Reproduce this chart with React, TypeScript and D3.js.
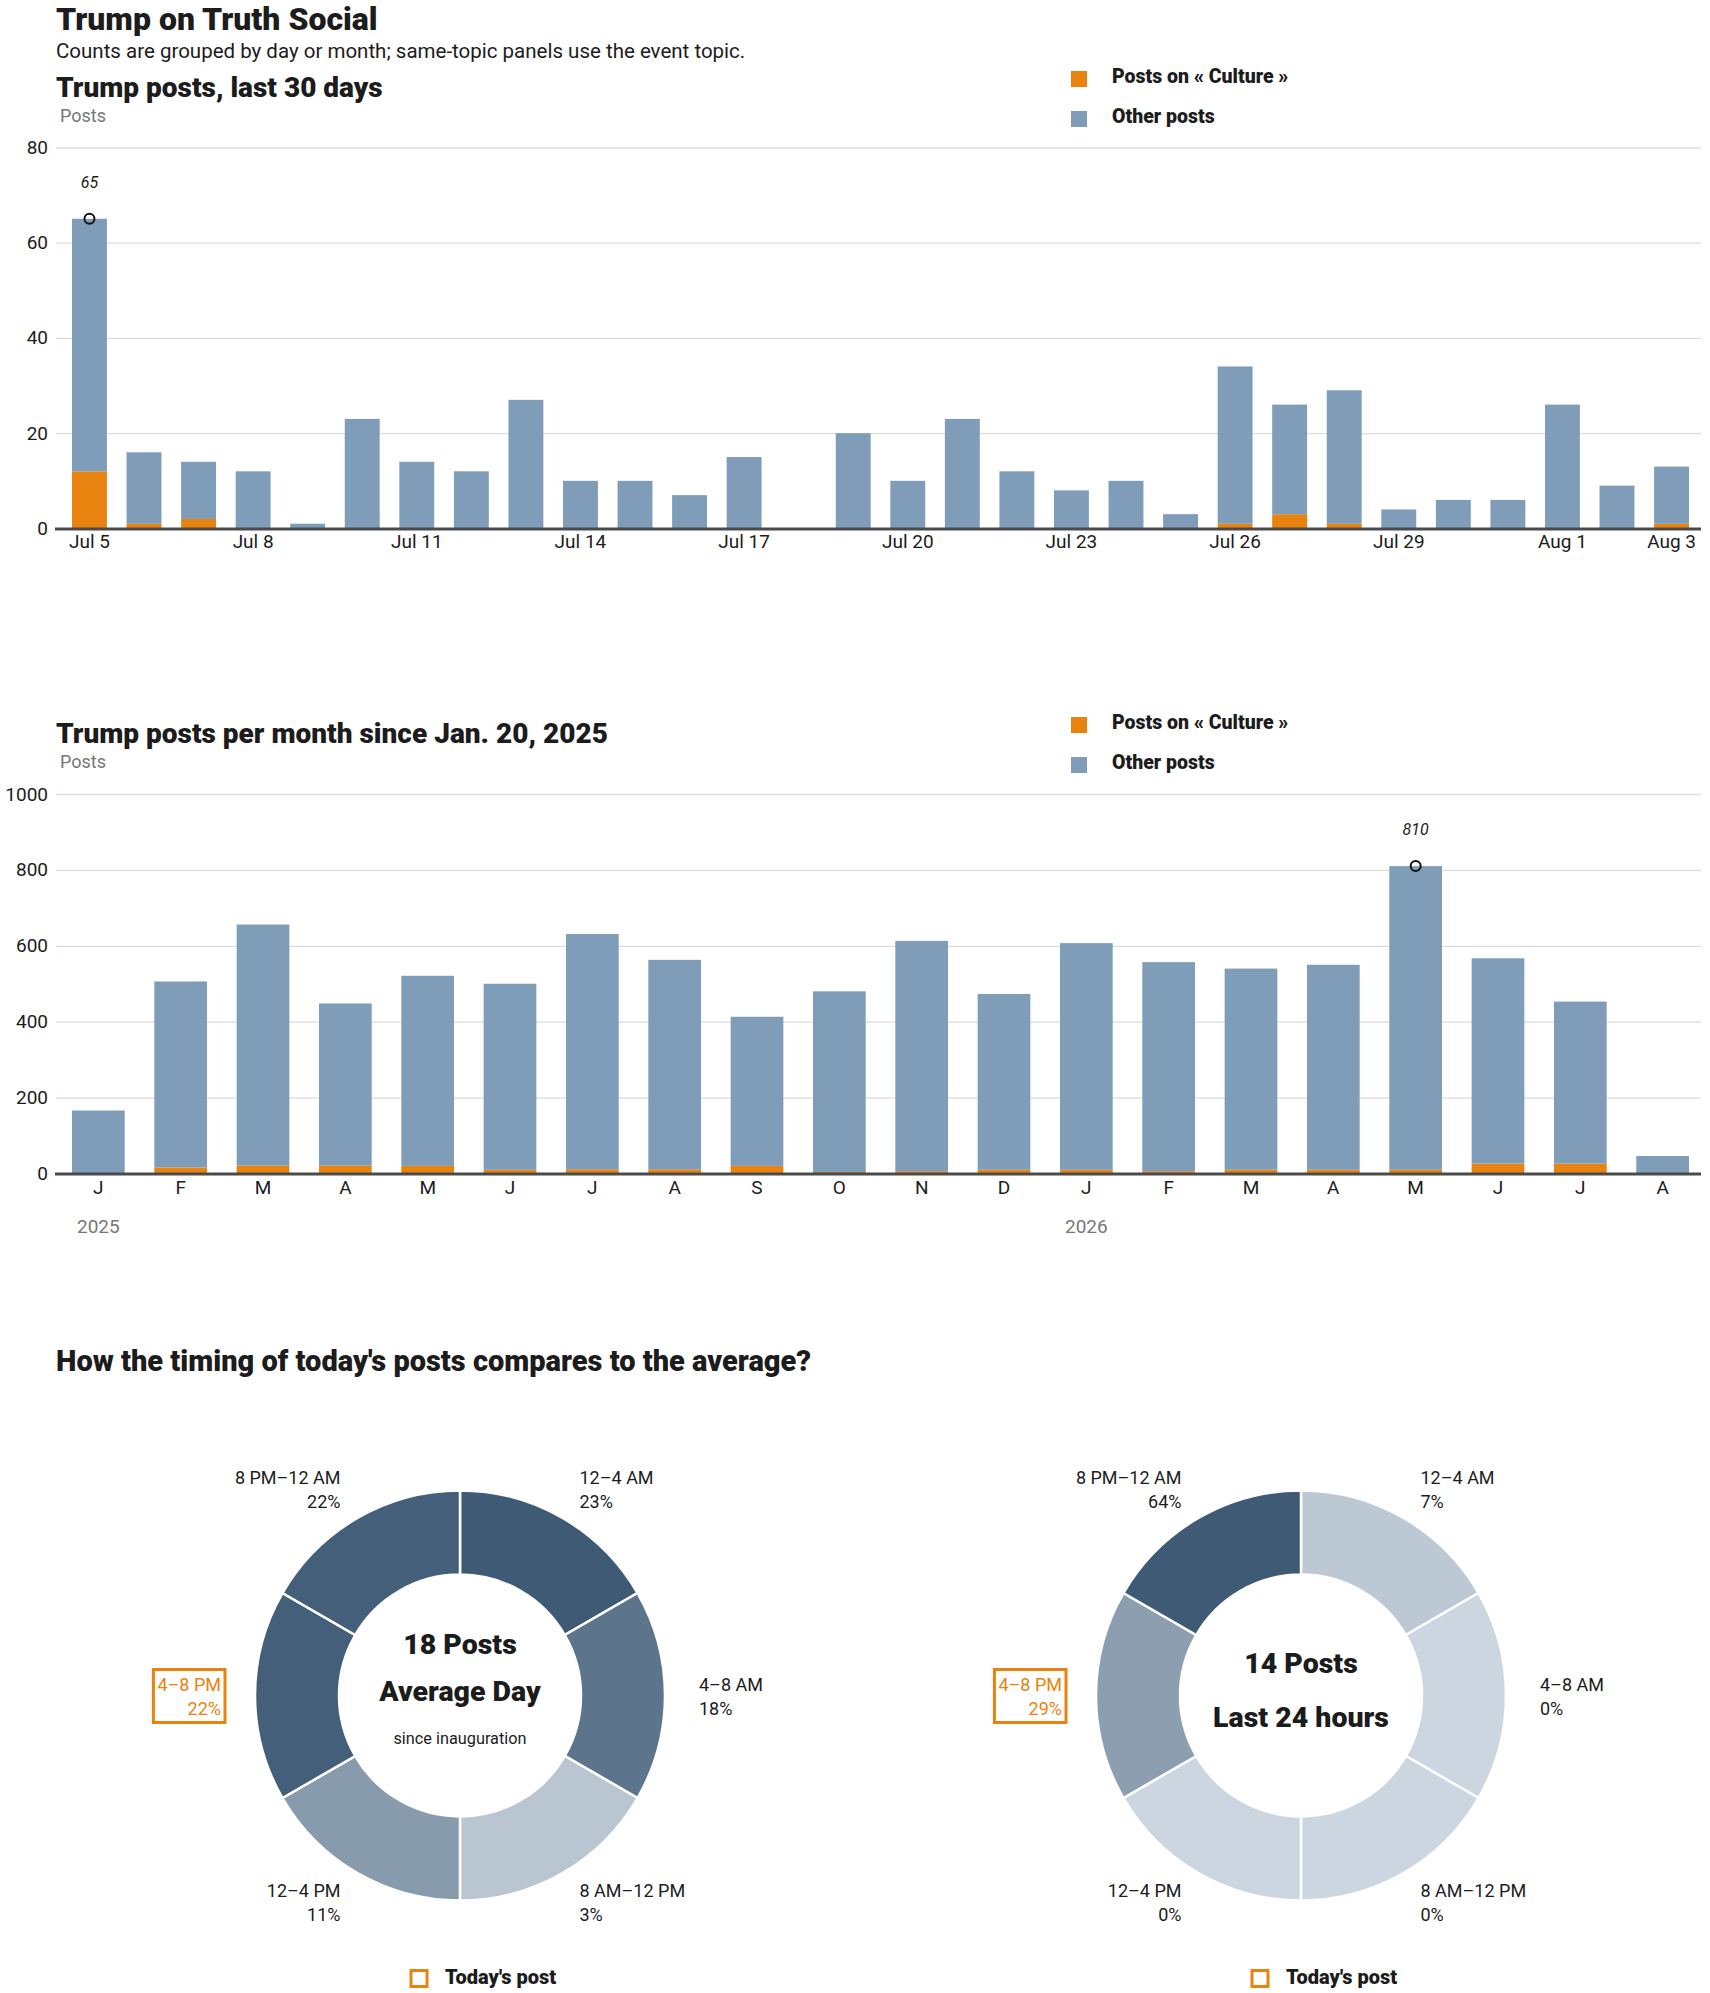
import React, { useRef, useEffect } from 'react';
import * as d3 from 'd3';

// --- DATA ---
const dayLabels = [
  "Jul 5", "Jul 6", "Jul 7", "Jul 8", "Jul 9", "Jul 10", "Jul 11", "Jul 12", "Jul 13", "Jul 14",
  "Jul 15", "Jul 16", "Jul 17", "Jul 18", "Jul 19", "Jul 20", "Jul 21", "Jul 22", "Jul 23", "Jul 24",
  "Jul 25", "Jul 26", "Jul 27", "Jul 28", "Jul 29", "Jul 30", "Jul 31", "Aug 1", "Aug 2", "Aug 3",
];
const dayTotals = [65, 16, 14, 12, 1, 23, 14, 12, 27, 10, 10, 7, 15, 0, 20, 10, 23, 12, 8, 10, 3, 34, 26, 29, 4, 6, 6, 26, 9, 13];
const dayCulture = [12, 1, 2, 0, 0, 0, 0, 0, 0, 0, 0, 0, 0, 0, 0, 0, 0, 0, 0, 0, 0, 1, 3, 1, 0, 0, 0, 0, 0, 1];
const dayTicks = ["Jul 5", "Jul 8", "Jul 11", "Jul 14", "Jul 17", "Jul 20", "Jul 23", "Jul 26", "Jul 29", "Aug 1", "Aug 3"];
const dayYTicks = [0, 20, 40, 60, 80];

const monthKeys = [
  "2025-01", "2025-02", "2025-03", "2025-04", "2025-05", "2025-06", "2025-07", "2025-08", "2025-09", "2025-10",
  "2025-11", "2025-12", "2026-01", "2026-02", "2026-03", "2026-04", "2026-05", "2026-06", "2026-07", "2026-08",
];
const monthLabels = ["J", "F", "M", "A", "M", "J", "J", "A", "S", "O", "N", "D", "J", "F", "M", "A", "M", "J", "J", "A"];
const monthTotals = [166, 506, 656, 448, 521, 500, 631, 563, 413, 480, 613, 473, 607, 557, 540, 550, 810, 567, 453, 46];
const monthCulture = [0, 16, 21, 21, 20, 10, 11, 11, 20, 4, 6, 10, 10, 6, 10, 10, 10, 26, 26, 0];
const yearTicks = ["2025-01", "2026-01"];
const yearLabels = ["2025", "2026"];
const monthYTicks = [0, 200, 400, 600, 800, 1000];

const slotLabels = ["12–4 AM", "4–8 AM", "8 AM–12 PM", "12–4 PM", "4–8 PM", "8 PM–12 AM"];
const averageShares = [23, 18, 3, 11, 22, 22];
const todayShares = [7, 0, 0, 0, 29, 64];
const todaySlot = "4–8 PM";

const legendLabels = ["Posts on « Culture »", "Other posts"];

// --- STYLE ---
const W = 1710;
const H = 1993;
const ORANGE = "#e8830f";
const BLUE = "#7f9db9";
const INK = "#1c1c1c";
const GREY = "#777";
const HEAVY = "Roboto, 'Liberation Sans', sans-serif";
const BODY = "Roboto, 'Liberation Sans', sans-serif";

type BarOpts = {
  keys: string[];
  labels: string[];
  totals: number[];
  culture: number[];
  ticks: string[];
  yTicks: number[];
  yMax: number;
  yTop: number;
  yBottom: number;
  title: string;
  titleY: number;
  tickPad: number;
  years?: { keys: string[]; labels: string[]; y: number };
};

export default function App() {
  const svgRef = useRef<SVGSVGElement>(null);

  useEffect(() => {
    document.body.style.margin = "0";
    if (!svgRef.current) return;
    const svg = d3.select(svgRef.current);
    svg.selectAll("*").remove();

    // header
    svg.append("text").attr("x", 56).attr("y", 30)
      .attr("font-family", HEAVY).attr("font-weight", 900).attr("font-size", 32).attr("fill", INK)
      .text("Trump on Truth Social");
    svg.append("text").attr("x", 56).attr("y", 58)
      .attr("font-family", BODY).attr("font-size", 20.5).attr("fill", INK)
      .text("Counts are grouped by day or month; same-topic panels use the event topic.");

    const drawBars = (o: BarOpts) => {
      const g = svg.append("g");
      const left = 56, right = 1701;

      g.append("text").attr("x", 56).attr("y", o.titleY)
        .attr("font-family", HEAVY).attr("font-weight", 900).attr("font-size", 28).attr("fill", INK)
        .text(o.title);
      g.append("text").attr("x", 60).attr("y", o.titleY + 25)
        .attr("font-family", BODY).attr("font-size", 18).attr("fill", GREY)
        .text("Posts");

      // legend
      const legendColors = [ORANGE, BLUE];
      legendLabels.forEach((lab, i) => {
        const ly = o.titleY - 26 + i * 40;
        g.append("rect").attr("x", 1071).attr("y", ly).attr("width", 16).attr("height", 16)
          .attr("fill", legendColors[i]);
        g.append("text").attr("x", 1112).attr("y", ly + 12)
          .attr("font-family", HEAVY).attr("font-weight", 900).attr("font-size", 19.5).attr("fill", INK)
          .text(lab);
      });

      const x = d3.scaleBand<string>().domain(o.keys).range([72, 1689]).paddingInner(0.36).paddingOuter(0);
      const y = d3.scaleLinear().domain([0, o.yMax]).range([o.yBottom, o.yTop]);

      // grid + y labels
      const yAxis = g.append("g").attr("transform", `translate(${left},0)`)
        .call(d3.axisLeft(y).tickValues(o.yTicks).tickSize(-(right - left)).tickPadding(8).tickFormat(d3.format("d")));
      yAxis.select(".domain").remove();
      yAxis.selectAll(".tick line").attr("stroke", "#dcdcdc").attr("stroke-width", 1.3);
      yAxis.selectAll("text").attr("fill", INK).attr("font-size", 19).attr("font-family", BODY);

      // stacked bars
      const rows = o.keys.map((k, i) => ({ key: k, culture: o.culture[i], other: o.totals[i] - o.culture[i] }));
      const stack = d3.stack<any>().keys(["culture", "other"])(rows);
      const colors: Record<string, string> = { culture: ORANGE, other: BLUE };
      stack.forEach(layer => {
        g.append("g").attr("fill", colors[layer.key])
          .selectAll("rect").data(layer).enter().append("rect")
          .attr("x", d => x(d.data.key) || 0)
          .attr("width", x.bandwidth())
          .attr("y", d => y(d[1]))
          .attr("height", d => Math.max(0, y(d[0]) - y(d[1])));
      });

      // baseline
      g.append("line").attr("x1", 55).attr("x2", right).attr("y1", o.yBottom + 0.5).attr("y2", o.yBottom + 0.5)
        .attr("stroke", "#4a4a4a").attr("stroke-width", 3);

      // x labels
      const labelOf = new Map(o.keys.map((k, i) => [k, o.labels[i]]));
      const xAxis = g.append("g").attr("transform", `translate(0,${o.yBottom})`)
        .call(d3.axisBottom(x).tickValues(o.ticks).tickSize(0).tickPadding(o.tickPad).tickFormat(k => labelOf.get(k) || k));
      xAxis.select(".domain").remove();
      xAxis.selectAll("text").attr("fill", INK).attr("font-size", 19).attr("font-family", BODY);

      if (o.years) {
        o.years.keys.forEach((k, i) => {
          g.append("text").attr("x", (x(k) || 0) + x.bandwidth() / 2).attr("y", o.years!.y)
            .attr("text-anchor", "middle").attr("font-family", BODY).attr("font-size", 19).attr("fill", GREY)
            .text(o.years!.labels[i]);
        });
      }

      // annotate max
      const maxI = d3.maxIndex(o.totals);
      const cx = (x(o.keys[maxI]) || 0) + x.bandwidth() / 2;
      const cy = y(o.totals[maxI]);
      g.append("circle").attr("cx", cx).attr("cy", cy).attr("r", 5)
        .attr("fill", "none").attr("stroke", "#111").attr("stroke-width", 2);
      g.append("text").attr("x", cx).attr("y", cy - 31).attr("text-anchor", "middle")
        .attr("font-family", BODY).attr("font-style", "italic").attr("font-size", 16).attr("fill", INK)
        .text(String(o.totals[maxI]));
    };

    drawBars({
      keys: dayLabels, labels: dayLabels, totals: dayTotals, culture: dayCulture, ticks: dayTicks,
      yTicks: dayYTicks, yMax: 80, yTop: 147.3, yBottom: 528.5,
      title: "Trump posts, last 30 days", titleY: 97, tickPad: 6,
    });
    drawBars({
      keys: monthKeys, labels: monthLabels, totals: monthTotals, culture: monthCulture, ticks: monthKeys,
      yTicks: monthYTicks, yMax: 1000, yTop: 794, yBottom: 1173.5,
      title: "Trump posts per month since Jan. 20, 2025", titleY: 743, tickPad: 7,
      years: { keys: yearTicks, labels: yearLabels, y: 1233 },
    });

    // --- DONUTS ---
    svg.append("text").attr("x", 56).attr("y", 1371)
      .attr("font-family", HEAVY).attr("font-weight", 900).attr("font-size", 29).attr("fill", INK)
      .text("How the timing of today's posts compares to the average?");

    const R = 205, r = 121, RL = 239, CY = 1695.5;
    const pie = d3.pie<string>().value(() => 1).sort(null);
    const arc = d3.arc<d3.PieArcDatum<string>>().innerRadius(r).outerRadius(R);
    const labelArc = d3.arc<d3.PieArcDatum<string>>().innerRadius(RL).outerRadius(RL);

    const drawDonut = (cxd: number, shares: number[], center: { text: string; dy: number; size: number; heavy: boolean }[]) => {
      const g = svg.append("g").attr("transform", `translate(${cxd},${CY})`);
      const color = d3.scaleLinear<string>().domain([0, d3.max(shares) || 1]).range(["#ccd6e0", "#3e5a75"]);
      const arcs = pie(slotLabels);

      g.selectAll("path.slice").data(arcs).enter().append("path")
        .attr("class", "slice")
        .attr("d", arc)
        .attr("fill", d => color(shares[d.index]))
        .attr("stroke", "#fff").attr("stroke-width", 2.5);

      arcs.forEach(d => {
        const [lx, ly] = labelArc.centroid(d);
        const anchor = lx > 1 ? "start" : "end";
        const hot = d.data === todaySlot;
        const t = g.append("text").attr("text-anchor", anchor)
          .attr("font-family", BODY).attr("font-size", 18).attr("fill", hot ? ORANGE : INK);
        t.append("tspan").attr("x", lx).attr("y", ly - 5).text(d.data);
        t.append("tspan").attr("x", lx).attr("y", ly + 19).text(`${shares[d.index]}%`);
        if (hot) {
          const bb = (t.node() as SVGTextElement).getBBox();
          g.append("rect").attr("x", bb.x - 4).attr("y", bb.y - 4)
            .attr("width", bb.width + 8).attr("height", bb.height + 8)
            .attr("fill", "none").attr("stroke", ORANGE).attr("stroke-width", 3);
        }
      });

      center.forEach(c => {
        g.append("text").attr("x", 0).attr("y", c.dy).attr("text-anchor", "middle")
          .attr("font-family", c.heavy ? HEAVY : BODY).attr("font-weight", c.heavy ? 900 : 400)
          .attr("font-size", c.size).attr("fill", INK).text(c.text);
      });

      // legend
      g.append("rect").attr("x", -49).attr("y", 1970.5 - CY).attr("width", 16).attr("height", 16)
        .attr("fill", "#fff").attr("stroke", ORANGE).attr("stroke-width", 3);
      g.append("text").attr("x", -15).attr("y", 1983.5 - CY)
        .attr("font-family", HEAVY).attr("font-weight", 900).attr("font-size", 20).attr("fill", INK)
        .text("Today's post");
    };

    drawDonut(460, averageShares, [
      { text: "18 Posts", dy: -41.5, size: 28.5, heavy: true },
      { text: "Average Day", dy: 5, size: 28.5, heavy: true },
      { text: "since inauguration", dy: 48, size: 16.3, heavy: false },
    ]);
    drawDonut(1301, todayShares, [
      { text: "14 Posts", dy: -22.5, size: 28.5, heavy: true },
      { text: "Last 24 hours", dy: 31.5, size: 28.5, heavy: true },
    ]);
  }, []);

  return (
    <svg ref={svgRef} width={W} height={H} style={{ display: "block", background: "#fff" }} />
  );
}
